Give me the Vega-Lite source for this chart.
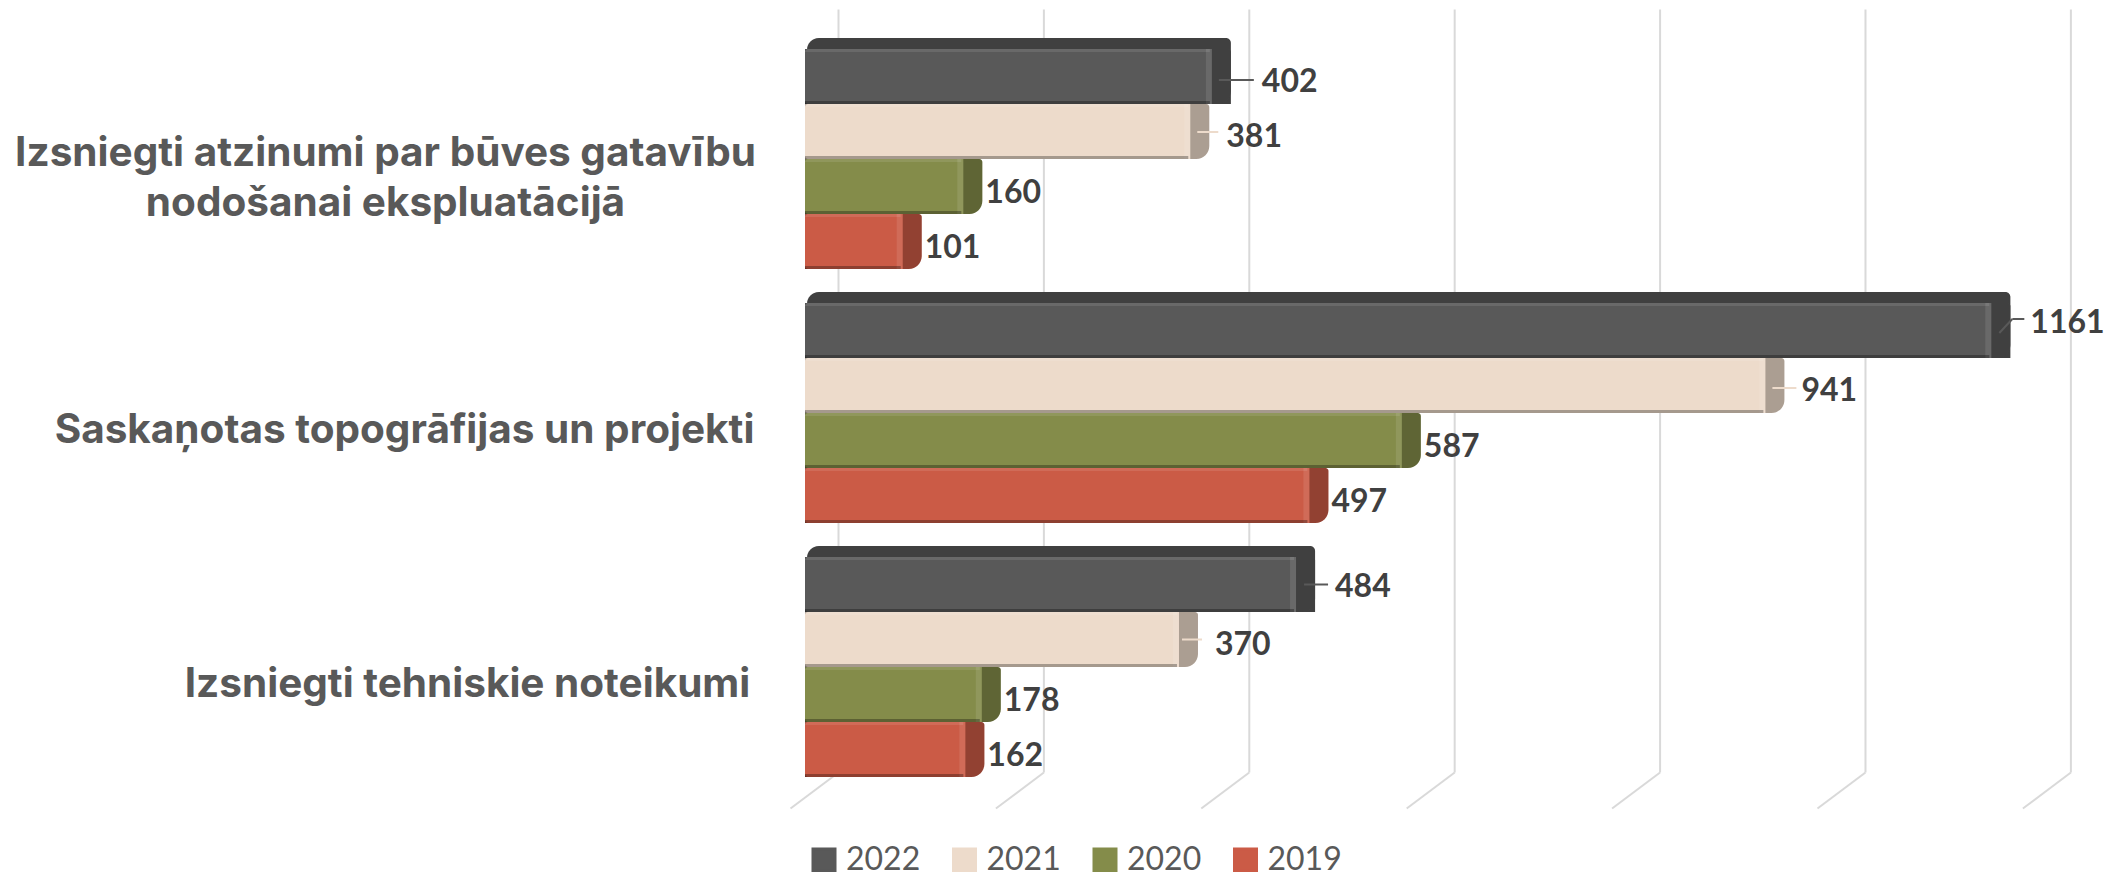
{"$schema":"https://vega.github.io/schema/vega-lite/v6.json","width":1313,"height":762,"autosize":"none","padding":{"left":805,"top":32,"right":0,"bottom":78},"background":"white","config":{"view":{"stroke":null}},
"data":{"values":[
{"cat":"A","year":"2022","v":402},{"cat":"A","year":"2021","v":381},{"cat":"A","year":"2020","v":160},{"cat":"A","year":"2019","v":101},
{"cat":"B","year":"2022","v":1161},{"cat":"B","year":"2021","v":941},{"cat":"B","year":"2020","v":587},{"cat":"B","year":"2019","v":497},
{"cat":"C","year":"2022","v":484},{"cat":"C","year":"2021","v":370},{"cat":"C","year":"2020","v":178},{"cat":"C","year":"2019","v":162}]},
"transform":[
{"calculate":"17+254*indexof(['A','B','C'],datum.cat)+55*indexof(['2022','2021','2020','2019'],datum.year)","as":"yb"},
{"calculate":"datum.yb","as":"yb2"},
{"calculate":"datum.yb+55","as":"ye"},
{"calculate":"datum.yb+55","as":"ye2"},
{"calculate":"datum.yb+27.5","as":"yc"},
{"calculate":"datum.yb+27.5","as":"yc2"},
{"calculate":"datum.v","as":"vend"}],
"encoding":{
"x":{"field":"v","type":"quantitative","scale":{"domain":[0,1278.5],"nice":false,"zero":true},"title":null,
"axis":{"values":[0,200,400,600,800,1000,1200],"labels":false,"domain":false,"grid":true,"gridColor":"#D9D9D9","gridWidth":2,"ticks":true,"tickColor":"#D9D9D9","tickWidth":2,
"encoding":{"grid":{"x":{"value":{"expr":"scale('x',datum.value)+33"}},"y":{"value":-22},"y2":{"value":-785}},
"ticks":{"x":{"value":{"expr":"scale('x',datum.value)+33"}},"x2":{"value":{"expr":"scale('x',datum.value)-15"}},"y":{"value":-22},"y2":{"value":14}}}}},
"y":{"field":"yb","type":"quantitative","scale":{"domain":[0,762],"range":[0,762],"nice":false,"zero":false},"title":null,
"axis":{"values":[121,398,652],"domain":false,"ticks":false,"grid":false,"labelFontSize":40.5,"labelFont":"Inter","labelFontWeight":700,"labelColor":"#595959","labelAlign":"center","labelBaseline":"middle","labelPadding":0,"labelLimit":0,"labelLineHeight":50,
"labelExpr":"datum.value==121?['Izsniegti atzinumi par būves gatavību','nodošanai ekspluatācijā']:datum.value==398?'Saskaņotas topogrāfijas un projekti':'Izsniegti tehniskie noteikumi'",
"encoding":{"labels":{"dx":{"value":{"expr":"datum.value==121?-420:datum.value==398?-401:-338"}}}}}},
"y2":{"field":"ye"},
"color":{"field":"year","type":"nominal","sort":["2022","2021","2020","2019"],"scale":{"domain":["2022","2021","2020","2019"],"range":["#595959","#EDDBCB","#848C4A","#CB5B46"]},
"legend":{"title":null,"orient":"none","legendX":3,"legendY":812,"direction":"horizontal","columns":4,"symbolType":"square","symbolSize":484,"labelFont":"Lato","labelFontSize":32,"labelColor":"#595959","columnPadding":26.5,"labelOffset":2,
"encoding":{"labels":{"dx":{"value":4}},"symbols":{"stroke":{"value":{"expr":"datum.value=='2022'?'#404040':datum.value=='2021'?'#B8A898':datum.value=='2020'?'#5E6630':'#8F4030'"}},"strokeWidth":{"value":3}}}}}
},
"layer":[
{"transform":[{"filter":"datum.year=='2022'"}],"encoding":{"x2":{"datum":0}},"mark":{"type":"bar","yOffset":-11,"xOffset":13,"x2Offset":2,"cornerRadiusTopLeft":12,"cornerRadiusTopRight":5}},
{"transform":[{"filter":"datum.year=='2022'"}],"encoding":{"x2":{"datum":0}},"mark":{"type":"bar","yOffset":-11,"xOffset":13,"x2Offset":2,"fill":"#000000","fillOpacity":0.28,"cornerRadiusTopLeft":12,"cornerRadiusTopRight":5}},
{"encoding":{"x2":{"datum":0}},"mark":{"type":"bar","xOffset":13,"cornerRadiusTopRight":3,"cornerRadiusBottomRight":13}},
{"encoding":{"x2":{"datum":0}},"mark":{"type":"bar","xOffset":13,"fill":"#000000","fillOpacity":0.28,"cornerRadiusTopRight":3,"cornerRadiusBottomRight":13}},
{"encoding":{"x2":{"datum":0}},"mark":{"type":"bar","xOffset":-6,"cornerRadiusTopLeft":3,"cornerRadiusBottomLeft":3}},
{"encoding":{"x2":{"field":"vend"}},"mark":{"type":"bar","xOffset":-6,"x2Offset":-12,"fill":"#FFFFFF","fillOpacity":0.1}},
{"encoding":{"x2":{"datum":0},"y2":{"field":"yb2"}},"mark":{"type":"bar","y2Offset":3,"xOffset":-8,"fill":"#FFFFFF","fillOpacity":0.1}},
{"encoding":{"x2":{"datum":0},"y":{"field":"ye2","type":"quantitative"}},"mark":{"type":"bar","yOffset":-3,"xOffset":-8,"fill":"#000000","fillOpacity":0.3}},
{"transform":[{"filter":"datum.v==402"}],"encoding":{"y":{"field":"yc","type":"quantitative"},"y2":null,"x2":{"field":"vend"}},"mark":{"type":"rule","xOffset":1,"x2Offset":36,"yOffset":3.5,"color":"#A6A6A6","strokeWidth":2}},
{"transform":[{"filter":"datum.v==381"}],"encoding":{"y":{"field":"yc","type":"quantitative"},"y2":null,"x2":{"field":"vend"}},"mark":{"type":"rule","xOffset":1,"x2Offset":22,"yOffset":0.5,"color":"#A6A6A6","strokeWidth":2}},
{"transform":[{"filter":"datum.v==941"}],"encoding":{"y":{"field":"yc","type":"quantitative"},"y2":null,"x2":{"field":"vend"}},"mark":{"type":"rule","xOffset":1,"x2Offset":25,"yOffset":2.5,"color":"#A6A6A6","strokeWidth":2}},
{"transform":[{"filter":"datum.v==370"}],"encoding":{"y":{"field":"yc","type":"quantitative"},"y2":null,"x2":{"field":"vend"}},"mark":{"type":"rule","xOffset":-3,"x2Offset":17,"yOffset":0,"color":"#A6A6A6","strokeWidth":2}},
{"transform":[{"filter":"datum.v==484"}],"encoding":{"y":{"field":"yc","type":"quantitative"},"y2":null,"x2":{"field":"vend"}},"mark":{"type":"rule","xOffset":2,"x2Offset":26,"yOffset":0,"color":"#A6A6A6","strokeWidth":2}},
{"transform":[{"filter":"datum.v==1161"}],"encoding":{"y":{"field":"yc","type":"quantitative"},"y2":null,"x2":{"field":"vend"}},"mark":{"type":"rule","xOffset":15,"x2Offset":27,"yOffset":-11.5,"color":"#A6A6A6","strokeWidth":2}},
{"transform":[{"filter":"datum.v==1161"}],"encoding":{"y":{"field":"yc","type":"quantitative"},"y2":{"field":"yc2"},"x2":{"field":"vend"}},"mark":{"type":"rule","xOffset":2,"x2Offset":15,"yOffset":2.5,"y2Offset":-11.5,"color":"#A6A6A6","strokeWidth":2}},
{"transform":[{"filter":"datum.year=='2020'||datum.year=='2019'"}],"encoding":{"y":{"field":"yc","type":"quantitative"},"y2":null,"text":{"field":"v","type":"quantitative"},"color":{"value":"#404040"}},"mark":{"type":"text","font":"Lato","fontWeight":700,"fontSize":32,"align":"left","baseline":"middle","dx":16,"dy":6}},
{"transform":[{"filter":"datum.year=='2021'"}],"encoding":{"y":{"field":"yc","type":"quantitative"},"y2":null,"text":{"field":"v","type":"quantitative"},"color":{"value":"#404040"}},"mark":{"type":"text","font":"Lato","fontWeight":700,"fontSize":32,"align":"left","baseline":"middle","dx":30,"dy":5}},
{"transform":[{"filter":"datum.v==402"}],"encoding":{"y":{"field":"yc","type":"quantitative"},"y2":null,"text":{"field":"v","type":"quantitative"},"color":{"value":"#404040"}},"mark":{"type":"text","font":"Lato","fontWeight":700,"fontSize":32,"align":"left","baseline":"middle","dx":44,"dy":5}},
{"transform":[{"filter":"datum.v==1161"}],"encoding":{"y":{"field":"yc","type":"quantitative"},"y2":null,"text":{"field":"v","type":"quantitative"},"color":{"value":"#404040"}},"mark":{"type":"text","font":"Lato","fontWeight":700,"fontSize":32,"align":"left","baseline":"middle","dx":33,"dy":-8}},
{"transform":[{"filter":"datum.v==484"}],"encoding":{"y":{"field":"yc","type":"quantitative"},"y2":null,"text":{"field":"v","type":"quantitative"},"color":{"value":"#404040"}},"mark":{"type":"text","font":"Lato","fontWeight":700,"fontSize":32,"align":"left","baseline":"middle","dx":33,"dy":2}}
]}
